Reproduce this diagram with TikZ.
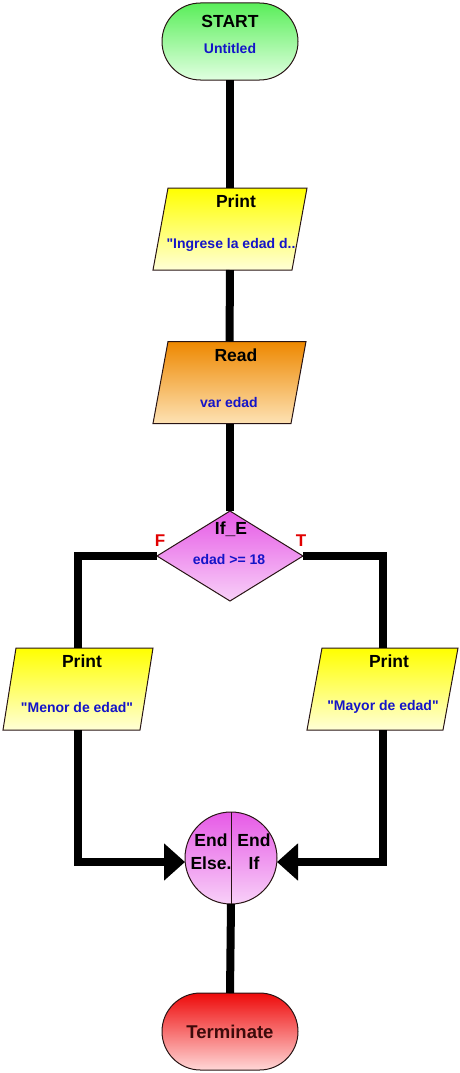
\documentclass[tikz,border=0pt]{standalone}
\usepackage{fontspec}
\setmainfont{Liberation Sans}
\usetikzlibrary{shapes.geometric,shapes.misc,arrows.meta}
\definecolor{txtblue}{RGB}{20,20,200}
\definecolor{txtred}{RGB}{225,0,0}
\definecolor{edge}{RGB}{40,20,20}
\tikzset{
  base/.style={draw=edge, line width=1pt, inner sep=0pt, outer sep=0pt},
  term/.style={base, rounded rectangle, minimum width=136pt, minimum height=77pt},
  iobox/.style={draw=none, inner sep=0pt, outer sep=0pt, minimum height=82pt},
  yellowfill/.style={top color={rgb,255:red,255;green,255;blue,0}, bottom color={rgb,255:red,255;green,255;blue,215}},
  orangefill/.style={top color={rgb,255:red,238;green,136;blue,0}, bottom color={rgb,255:red,253;green,226;blue,180}},
  magfill/.style={top color={rgb,255:red,230;green,90;blue,230}, bottom color={rgb,255:red,248;green,208;blue,248}},
  title/.style={font=\bfseries\fontsize{17.5}{19}\selectfont, text=black},
  val/.style={font=\bfseries\fontsize{14}{16}\selectfont, text=txtblue},
  flag/.style={font=\bfseries\fontsize{17}{18}\selectfont, text=txtred},
  conn/.style={line width=8pt, draw=black},
  arr/.style={conn, -{Triangle[length=21pt,width=36pt]}},
}
\newcommand{\paraShape}[3]{% name, skew, fill style
  \shadedraw[draw=edge, line width=1pt, #3] ([xshift=#2pt]#1.north west) -- (#1.north east)
    -- ([xshift=-#2pt]#1.south east) -- (#1.south west) -- cycle;}
\begin{document}
\begin{tikzpicture}[x=1pt,y=-1pt]
\useasboundingbox (0,0) rectangle (460,1073);
% shapes
\node[term, top color={rgb,255:red,90;green,238;blue,90}, bottom color={rgb,255:red,225;green,255;blue,225}] (start) at (230,41.5) {};
\node[iobox, minimum width=154pt] (p1) at (230,229) {};
\paraShape{p1}{15}{yellowfill}
\node[iobox, minimum width=153pt] (rd) at (229.5,382.5) {};
\paraShape{rd}{15}{orangefill}
\node[base, diamond, magfill, minimum width=146pt, minimum height=90pt] (dec) at (230,556) {};
\node[iobox, minimum width=150pt] (pl) at (78,689) {};
\paraShape{pl}{13}{yellowfill}
\node[iobox, minimum width=151pt] (pr) at (382.5,689) {};
\paraShape{pr}{15}{yellowfill}
\node[base, circle, magfill, minimum size=92pt] (endif) at (231,858) {};
\node[term, top color={rgb,255:red,238;green,10;blue,10}, bottom color={rgb,255:red,255;green,215;blue,215}] (stop) at (230,1031.5) {};
% texts
\node[title] (tstart) at (230,21) {START};
\node[val] (tuntitled) at (230,48) {Untitled};
\node[title] (tp1) at (236,201) {Print};
\node[val] (vp1) at (231,245) {\textquotedbl Ingrese la edad d..};
\node[title] (trd) at (236,355) {Read};
\node[val] (vrd) at (229,402) {var edad};
\node[title] (tdec) at (231,529) {If\_E};
\node[val] (vdec) at (229,559) {edad >= 18};
\node[flag] (tf) at (160,541) {F};
\node[flag] (tt) at (301,541) {T};
\node[title] (tpl) at (82,661) {Print};
\node[val] (vpl) at (77,707) {\textquotedbl Menor de edad\textquotedbl};
\node[title] (tpr) at (389,661) {Print};
\node[val] (vpr) at (383,707) {\textquotedbl Mayor de edad\textquotedbl};
\node[title] (te1) at (211,840) {End};
\node[title] (te2) at (211,863) {Else.};
\node[title] (te3) at (254,840) {End};
\node[title] (te4) at (254,863) {If};
\node[title, font=\bfseries\fontsize{18.5}{20}\selectfont, text={rgb,255:red,60;green,10;blue,10}] (tstop) at (230,1031.5) {Terminate};
% divider in circle
\draw[edge, line width=1pt] (endif.north) -- (endif.south);
% connectors
\draw[conn] (start.south) -- (p1.north);
\draw[conn] (p1.south) -- (rd.north);
\draw[conn] (rd.south -| dec.north) -- (dec.north);
\draw[conn] (dec.west) -| (pl.north);
\draw[conn] (dec.east) -| (pr.north);
\coordinate (jl) at (pl.south |- 0,862);
\coordinate (jr) at (pr.south |- 0,862);
\draw[arr] (pl.south) |- (endif.west |- jl);
\draw[arr] (pr.south) |- (endif.east |- jr);
\draw[conn] (endif.south) -- (stop.north);
\end{tikzpicture}
\end{document}
